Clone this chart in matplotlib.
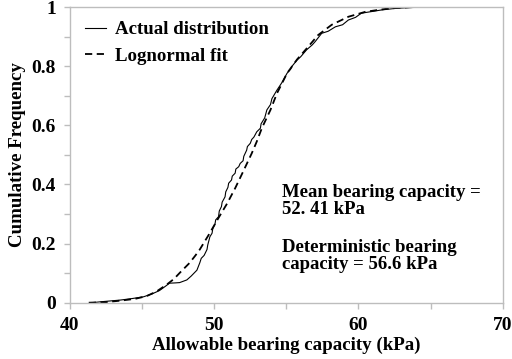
import matplotlib
matplotlib.use("Agg")
import matplotlib.pyplot as plt
from matplotlib.ticker import MultipleLocator, FixedLocator

plt.rcParams['font.family'] = ['Liberation Serif', 'DejaVu Serif']
plt.rcParams['font.weight'] = 'bold'

actual_x = [41.5, 42.1, 43.5, 44.3, 45.1, 45.7, 46.2, 46.6, 46.9, 47.3, 47.6, 48.1, 48.4, 48.8,
            49.0, 49.1, 49.3, 49.5, 49.55, 49.7, 49.85, 49.9, 50.05, 50.1, 50.3, 50.35, 50.5,
            50.55, 50.75, 50.8, 50.95, 51.0, 51.2, 51.25, 51.45, 51.5, 51.7, 51.8, 52.0, 52.05,
            52.25, 52.3, 52.5, 52.6, 52.75, 52.95, 53.2, 53.25, 53.5, 53.65, 53.9, 54.0, 54.35,
            54.5, 54.7, 55.05, 55.3, 55.4, 55.75, 56.0, 56.4, 56.8, 57.0, 57.45, 57.9, 58.4,
            58.9, 59.3, 59.8, 60.2, 61.6, 62.5, 63.5, 64.85, 65.0]
actual_y = [0.0, 0.003, 0.009, 0.014, 0.020, 0.030, 0.041, 0.055, 0.066, 0.067, 0.068, 0.077, 0.090, 0.110,
            0.135, 0.150, 0.160, 0.180, 0.195, 0.223, 0.235, 0.250, 0.265, 0.280, 0.291, 0.310, 0.325,
            0.340, 0.358, 0.375, 0.390, 0.404, 0.415, 0.428, 0.438, 0.452, 0.460, 0.471, 0.480, 0.495,
            0.516, 0.528, 0.539, 0.552, 0.560, 0.578, 0.590, 0.605, 0.625, 0.652, 0.670, 0.690, 0.719,
            0.730, 0.745, 0.776, 0.790, 0.800, 0.821, 0.832, 0.855, 0.872, 0.883, 0.911, 0.918, 0.933,
            0.940, 0.956, 0.965, 0.979, 0.990, 0.995, 0.998, 1.0, 1.0]

# Lognormal fit curve
fit_x = [41.3, 42.5, 43.5, 44.5, 45.3, 46.0, 46.7, 47.2, 47.65, 48.3, 48.7, 49.0, 49.6, 50.3,
         50.9, 51.45, 52.0, 52.6, 52.95, 53.3, 53.9, 54.35, 55.05, 55.75, 56.45, 57.2, 58.15,
         59.3, 60.5, 62.1, 63.9]
fit_y = [0.0, 0.002, 0.007, 0.013, 0.022, 0.038, 0.061, 0.080, 0.103, 0.135, 0.160, 0.180, 0.228, 0.287,
         0.336, 0.387, 0.443, 0.505, 0.545, 0.590, 0.652, 0.708, 0.776, 0.823, 0.862, 0.905, 0.940,
         0.967, 0.984, 0.995, 1.0]

x_ticks = [40, 50, 60, 70]
y_ticks = [0, 0.2, 0.4, 0.6, 0.8, 1]
y_tick_labels = ['0', '0.2', '0.4', '0.6', '0.8', '1']

fig = plt.figure(figsize=(5.12, 3.59), dpi=100)
ax = fig.add_axes([0.1367, 0.1568, 0.8451, 0.8237])

ax.plot(actual_x, actual_y, color='black', lw=0.8, label='Actual distribution')
ax.plot(fit_x, fit_y, color='black', lw=1.3, dashes=(4, 2.5), label='Lognormal fit')

ax.set_xlim(40, 70)
ax.set_ylim(0, 1)
ax.xaxis.set_major_locator(FixedLocator(x_ticks))
ax.xaxis.set_minor_locator(MultipleLocator(5))
ax.yaxis.set_major_locator(FixedLocator(y_ticks))
ax.yaxis.set_minor_locator(MultipleLocator(0.1))
ax.set_yticklabels(y_tick_labels)

gray = '#bdbdbd'
for s in ax.spines.values():
    s.set_color(gray)
    s.set_linewidth(1.0)
ax.tick_params(which='both', direction='out', color=gray, width=1.0,
               labelsize=14, pad=6)
ax.tick_params(which='major', length=4)
ax.tick_params(which='minor', length=4)
for lab in ax.get_xticklabels() + ax.get_yticklabels():
    lab.set_fontweight('bold')

ax.set_xlabel('Allowable bearing capacity (kPa)', fontsize=13.6, fontweight='bold', labelpad=2)
ax.set_ylabel('Cumulative Frequency', fontsize=13.6, fontweight='bold', labelpad=4)

ax.legend(loc='upper left', bbox_to_anchor=(-0.005, 1.01), frameon=False,
          prop={'family': 'Liberation Serif', 'weight': 'bold', 'size': 13.6},
          handlelength=1.1, handletextpad=0.5, labelspacing=0.5)

ax.text(0.49, 0.403, 'Mean bearing capacity =\n52. 41 kPa', transform=ax.transAxes,
        fontsize=13.5, fontweight='bold', va='top', ha='left', linespacing=1.0)
ax.text(0.49, 0.215, 'Deterministic bearing\ncapacity = 56.6 kPa', transform=ax.transAxes,
        fontsize=13.5, fontweight='bold', va='top', ha='left', linespacing=1.0)

fig.savefig('out.png', dpi=100)
